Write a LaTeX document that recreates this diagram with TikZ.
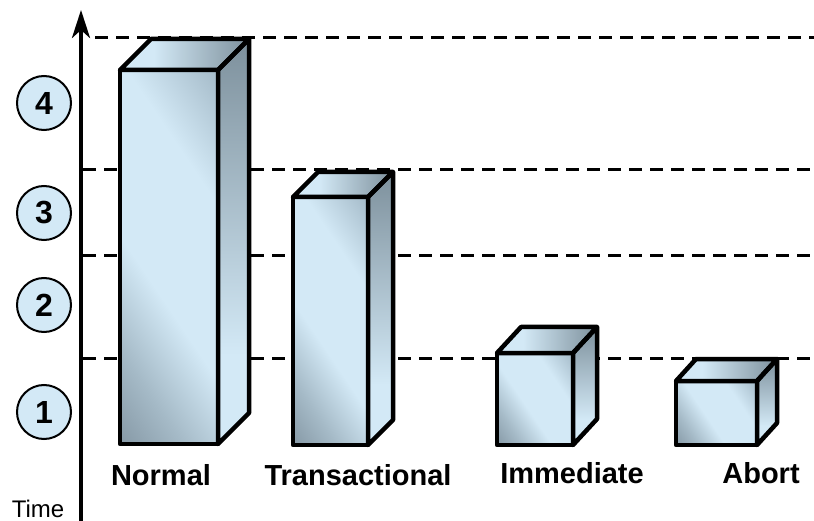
\documentclass[tikz,border=0pt]{standalone}
\usepackage{fontspec}
\setmainfont{Liberation Sans}
\usetikzlibrary{arrows.meta}
\definecolor{lb}{HTML}{D3E9F6}
\definecolor{db}{HTML}{7D909C}
\definecolor{mb}{HTML}{A5BAC7}
\definecolor{fd}{HTML}{8699A6}
\definecolor{tr}{HTML}{A4BAC8}
\pgfdeclareverticalshading{frontsh}{100bp}{color(0bp)=(fd); color(30.8bp)=(fd); color(37.7bp)=(mb); color(46.2bp)=(lb); color(59.2bp)=(lb); color(69.2bp)=(tr); color(100bp)=(tr)}
\pgfdeclareverticalshading{sidesh}{100bp}{color(0bp)=(lb); color(25bp)=(lb); color(36bp)=(lb); color(75bp)=(db); color(100bp)=(db)}
\pgfdeclarehorizontalshading{topsh}{100bp}{color(0bp)=(lb); color(25bp)=(lb); color(38bp)=(lb); color(75bp)=(db); color(100bp)=(db)}
\tikzset{
  edge/.style={line width=4.5pt, line join=round},
  grid/.style={line width=3pt, dash pattern=on 13pt off 8pt},
  lbl/.style={font=\fontsize{29}{30}\selectfont\bfseries, anchor=base},
  num/.style={circle, draw, line width=2pt, fill=lb, minimum size=54pt, inner sep=0pt, font=\fontsize{32}{32}\selectfont\bfseries},
  sideface/.style={shading=sidesh},
  topface/.style={shading=topsh},
}
% #1 left, #2 top, #3 right, #4 bottom, #5 dx, #6 dy
\newcommand\barbox[6]{%
  \pgfmathsetmacro\bcx{(#1+#3)/2}%
  \pgfmathsetmacro\bcy{(#2+#4)/2}%
  \pgfmathsetmacro\brr{1.3*((#3-#1)*0.83+(#4-#2)*0.56)/2}%
  \begin{scope}
    \clip (#1,#2) rectangle (#3,#4);
    \shade[shading=frontsh, shading angle=-56] (\bcx-\brr,\bcy-\brr) rectangle (\bcx+\brr,\bcy+\brr);
  \end{scope}
  \shade[sideface] (#3,#2) -- ++(#5,-#6) -- (#3+#5,#4-#6) -- (#3,#4) -- cycle;
  \shade[topface] (#1,#2) -- ++(#5,-#6) -- (#3+#5,#2-#6) -- (#3,#2) -- cycle;
  \draw[edge] (#1,#2) rectangle (#3,#4);
  \draw[edge] (#3,#2) -- ++(#5,-#6) -- (#3+#5,#4-#6) -- (#3,#4) -- cycle;
  \draw[edge] (#1,#2) -- ++(#5,-#6) -- (#3+#5,#2-#6) -- (#3,#2) -- cycle;
}
\begin{document}
\begin{tikzpicture}[x=1pt,y=-1pt]
\useasboundingbox (0,0) rectangle (814,521);
% dashed grid lines
\coordinate (g4a) at (95,38);  \coordinate (g4b) at (814,38);
\coordinate (g3a) at (83,170); \coordinate (g3b) at (814,170);
\coordinate (g2a) at (83,256); \coordinate (g2b) at (814,256);
\coordinate (g1a) at (83,358); \coordinate (g1b) at (814,358);
\draw[grid] (g4a) -- (g4b);
\draw[grid] (g3a) -- (g3b);
\draw[grid] (g2a) -- (g2b);
\draw[grid] (g1a) -- (g1b);
% bars
\barbox{120}{70}{218}{444}{31}{31}
\barbox{293}{197}{368}{445}{25}{25}
\barbox{497}{353}{573}{445}{24}{26}
\barbox{676}{381}{757}{445}{20}{22}
% axis
\coordinate (ax0) at (81,521);
\coordinate (ax1) at (81,10);
\draw[line width=4pt, -{Stealth[length=28pt,width=18pt,inset=8pt]}] (ax0) -- (ax1);
% circles
\node[num] (c4) at (44,103) {4};
\node[num] (c3) at (44,213) {3};
\node[num] (c2) at (44,305) {2};
\node[num] (c1) at (44,412) {1};
% labels
\node[lbl] (ln) at (161,485) {Normal};
\node[lbl] (lt) at (358,485) {Transactional};
\node[lbl] (li) at (572,483) {Immediate};
\node[lbl] (la) at (761,483) {Abort};
\node[font=\fontsize{24}{24}\selectfont, anchor=base] (time) at (38,517) {Time};
\end{tikzpicture}
\end{document}
